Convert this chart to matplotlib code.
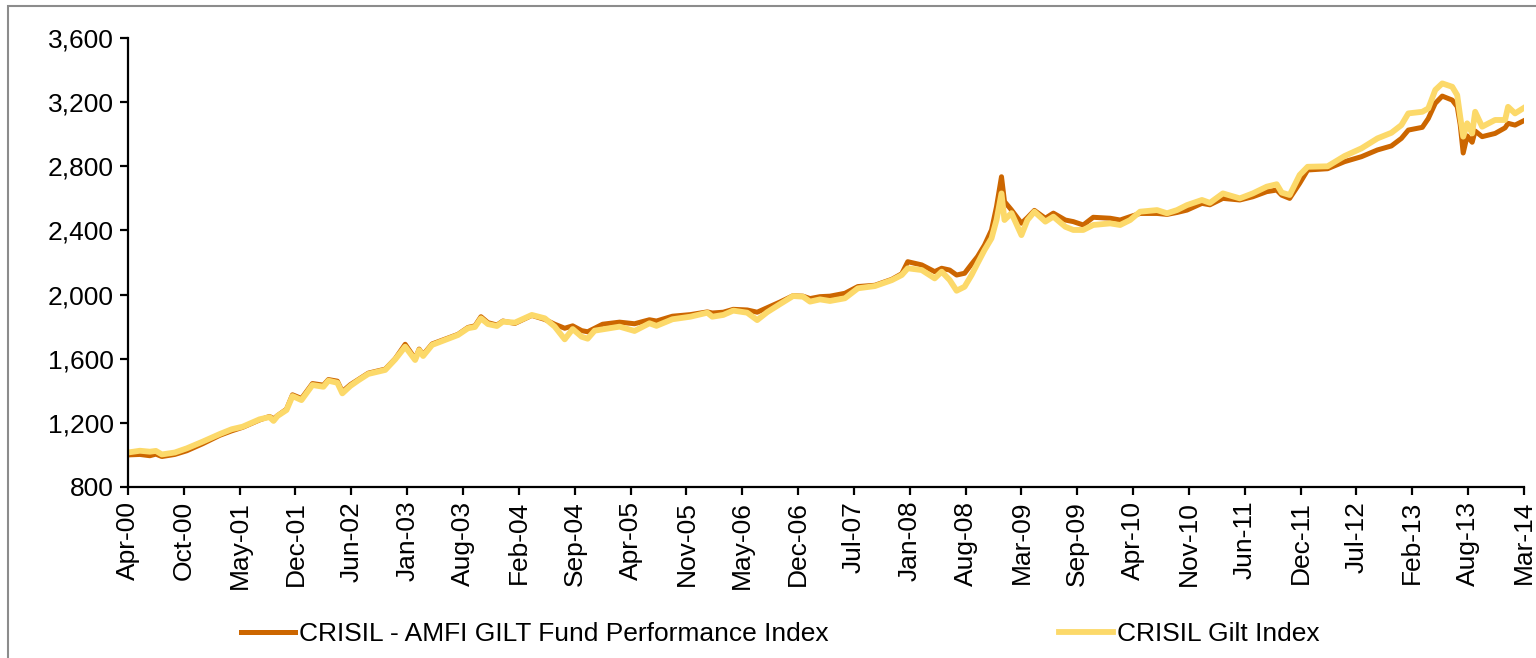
import numpy as np
import matplotlib
matplotlib.use('Agg')
import matplotlib.pyplot as plt
from matplotlib.ticker import FuncFormatter
from matplotlib.patches import Rectangle

plt.rcParams['font.family'] = ['Liberation Sans', 'DejaVu Sans']

# time as decimal years
years = [2000.25, 2000.37, 2000.47, 2000.53, 2000.59, 2000.72, 2000.84, 2001.00, 2001.17, 2001.29,
         2001.40, 2001.57, 2001.67, 2001.71, 2001.75, 2001.84, 2001.90, 2001.99, 2002.10, 2002.21,
         2002.26, 2002.35, 2002.40, 2002.48, 2002.56, 2002.66, 2002.83, 2002.93, 2003.03, 2003.13,
         2003.17, 2003.21, 2003.30, 2003.43, 2003.56, 2003.66, 2003.73, 2003.79, 2003.86, 2003.95,
         2004.01, 2004.13, 2004.30, 2004.43, 2004.53, 2004.63, 2004.71, 2004.80, 2004.86, 2004.93,
         2005.01, 2005.18, 2005.33, 2005.48, 2005.55, 2005.71, 2005.89, 2006.06, 2006.11, 2006.22,
         2006.32, 2006.46, 2006.56, 2006.66, 2006.79, 2006.92, 2007.02, 2007.09, 2007.19, 2007.29,
         2007.44, 2007.57, 2007.74, 2007.91, 2008.01, 2008.07, 2008.21, 2008.34, 2008.41, 2008.49,
         2008.56, 2008.64, 2008.71, 2008.77, 2008.84, 2008.91, 2008.96, 2009.01, 2009.04, 2009.11,
         2009.21, 2009.27, 2009.34, 2009.45, 2009.53, 2009.65, 2009.73, 2009.83, 2009.93, 2010.10,
         2010.20, 2010.30, 2010.40, 2010.57, 2010.67, 2010.77, 2010.87, 2011.02, 2011.10, 2011.23,
         2011.40, 2011.53, 2011.67, 2011.77, 2011.82, 2011.90, 2012.00, 2012.08, 2012.28, 2012.45,
         2012.62, 2012.78, 2012.92, 2013.02, 2013.09, 2013.23, 2013.29, 2013.36, 2013.43, 2013.53,
         2013.58, 2013.61, 2013.64, 2013.68, 2013.73, 2013.76, 2013.83, 2013.96, 2014.06, 2014.09,
         2014.16, 2014.25]

fund = [1000, 1003, 995, 1005, 990, 1003, 1026, 1070, 1122, 1150,
        1172, 1218, 1240, 1225, 1245, 1285, 1375, 1352, 1445, 1435,
        1470, 1460, 1395, 1438, 1470, 1510, 1535, 1600, 1690, 1600,
        1660, 1625, 1692, 1722, 1752, 1795, 1805, 1862, 1825, 1810,
        1835, 1820, 1870, 1845, 1815, 1790, 1805, 1775, 1768, 1790,
        1815, 1828, 1818, 1843, 1835, 1865, 1875, 1892, 1885, 1890,
        1908, 1904, 1890, 1918, 1954, 1993, 1990, 1975, 1987, 1990,
        2008, 2050, 2058, 2095, 2130, 2205, 2185, 2143, 2164, 2153,
        2122, 2133, 2190, 2237, 2309, 2403, 2548, 2735, 2580, 2528,
        2445, 2480, 2525, 2476, 2508, 2465, 2455, 2434, 2482, 2476,
        2465, 2486, 2506, 2506, 2500, 2512, 2527, 2569, 2560, 2600,
        2590, 2610, 2642, 2652, 2620, 2600, 2694, 2777, 2785, 2829,
        2860, 2902, 2927, 2974, 3026, 3043, 3098, 3193, 3238, 3213,
        3172, 3060, 2883, 2990, 2950, 3020, 2985, 3005, 3040, 3068,
        3057, 3085]

gilt = [1015, 1026, 1020, 1025, 1003, 1015, 1041, 1083, 1130, 1160,
        1176, 1222, 1236, 1212, 1243, 1280, 1367, 1342, 1436, 1425,
        1463, 1450, 1384, 1430, 1465, 1505, 1530, 1596, 1675, 1592,
        1654, 1617, 1686, 1717, 1748, 1790, 1798, 1852, 1816, 1804,
        1831, 1825, 1873, 1852, 1800, 1721, 1785, 1737, 1725, 1775,
        1783, 1800, 1773, 1821, 1805, 1846, 1862, 1887, 1862, 1873,
        1900, 1887, 1841, 1890, 1941, 1991, 1987, 1956, 1970, 1960,
        1977, 2039, 2053, 2090, 2122, 2164, 2153, 2101, 2143, 2091,
        2024, 2049, 2122, 2195, 2278, 2351, 2465, 2631, 2465, 2508,
        2371, 2465, 2517, 2455, 2486, 2423, 2403, 2403, 2434, 2444,
        2434, 2465, 2517, 2527, 2507, 2527, 2558, 2590, 2572, 2631,
        2600, 2631, 2673, 2688, 2636, 2621, 2746, 2797, 2800, 2864,
        2912, 2974, 3009, 3057, 3130, 3140, 3161, 3276, 3317, 3296,
        3244, 3109, 2985, 3068, 3005, 3140, 3047, 3089, 3089, 3171,
        3130, 3165]

tick_labels = ['Apr-00', 'Oct-00', 'May-01', 'Dec-01', 'Jun-02', 'Jan-03', 'Aug-03', 'Feb-04',
               'Sep-04', 'Apr-05', 'Nov-05', 'May-06', 'Dec-06', 'Jul-07', 'Jan-08', 'Aug-08',
               'Mar-09', 'Sep-09', 'Apr-10', 'Nov-10', 'Jun-11', 'Dec-11', 'Jul-12', 'Feb-13',
               'Aug-13', 'Mar-14']

fig = plt.figure(figsize=(15.36, 6.58), dpi=100)
ax = fig.add_axes([0.0833, 0.2599, 0.9089, 0.6823])

ax.plot(years, fund, color='#cc6600', lw=3.6, label='CRISIL - AMFI GILT Fund Performance Index',
        solid_joinstyle='round')
ax.plot(years, gilt, color='#fcd96a', lw=4.2, label='CRISIL Gilt Index', solid_joinstyle='round')

ax.set_xlim(years[0], years[-1])
ax.set_ylim(800, 3600)
ax.set_yticks(np.arange(800, 3601, 400))
ax.yaxis.set_major_formatter(FuncFormatter(lambda v, p: '{:,.0f}'.format(v)))
ax.set_xticks(np.linspace(years[0], years[-1], len(tick_labels)))
ax.set_xticklabels(tick_labels, rotation=90)

ax.spines['top'].set_visible(False)
ax.spines['right'].set_visible(False)
for s in ['left', 'bottom']:
    ax.spines[s].set_linewidth(1.6)
ax.tick_params(axis='both', direction='out', length=6, width=1.6, labelsize=19, pad=4)

# legend under the chart
fig.legend(loc='center', bbox_to_anchor=(0.508, 0.036), ncol=2, frameon=False, fontsize=19,
           handlelength=2.05, handletextpad=0.15, columnspacing=8.7)

# grey chart border
fig.patches.append(Rectangle((8 / 1536, -0.05), 1.2, 0.9909 + 0.05, transform=fig.transFigure,
                             fill=False, edgecolor='#8c8c8c', lw=1.5))

fig.savefig('out.png', dpi=100)
